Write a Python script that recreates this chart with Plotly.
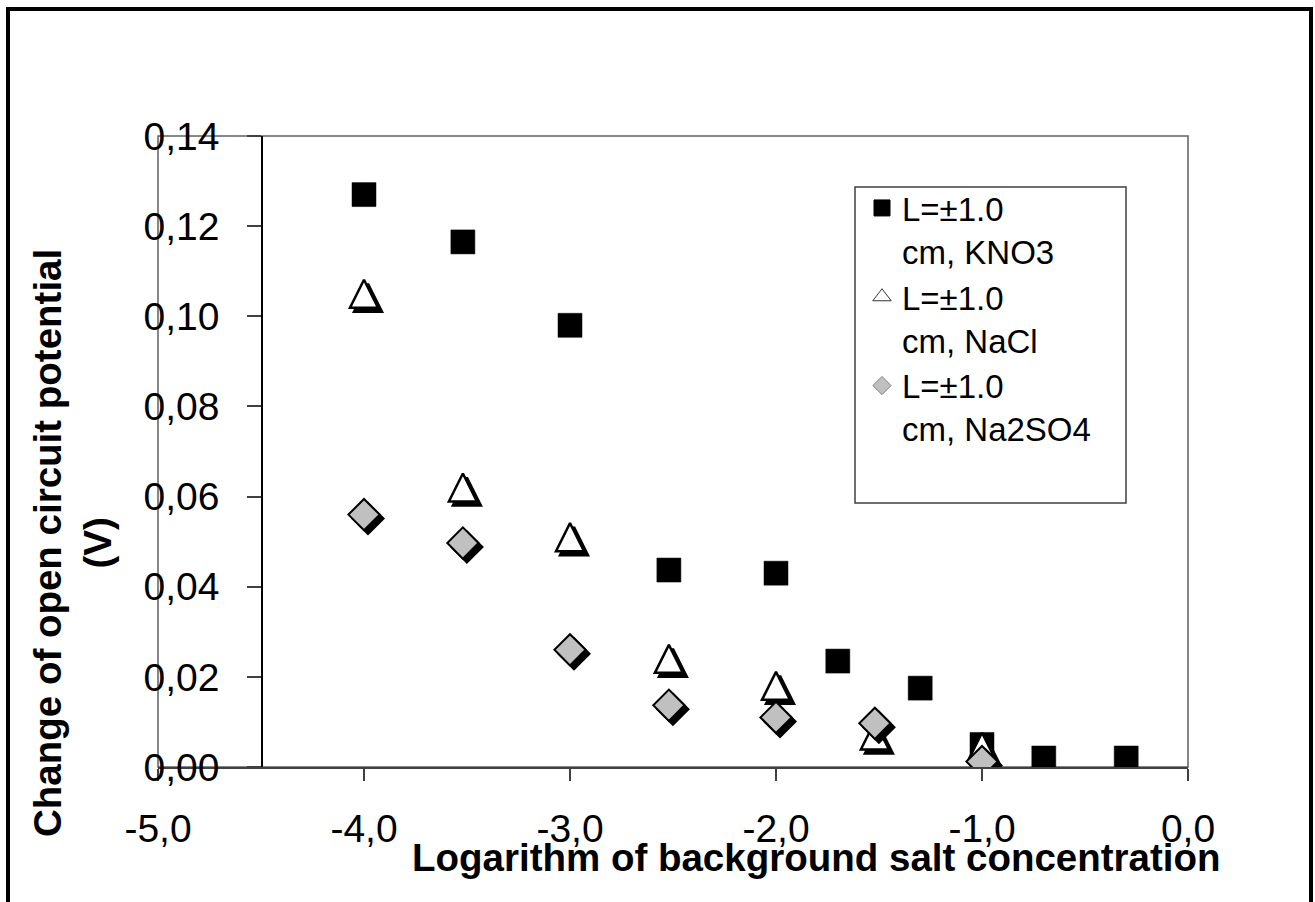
import plotly.graph_objects as go

# ---- data ----
x_kno3 = [-4.0, -3.52, -3.0, -2.52, -2.0, -1.70, -1.30, -1.0, -0.70, -0.30]
y_kno3 = [0.127, 0.1165, 0.098, 0.0437, 0.043, 0.0235, 0.0175, 0.005, 0.002, 0.002]

x_nacl = [-4.0, -3.52, -3.0, -2.52, -2.0, -1.52, -1.0]
y_nacl = [0.105, 0.062, 0.051, 0.024, 0.018, 0.007, 0.0045]

x_na2so4 = [-4.0, -3.52, -3.0, -2.52, -2.0, -1.52, -1.0]
y_na2so4 = [0.056, 0.0497, 0.026, 0.0137, 0.011, 0.0097, 0.0012]

names = ["L=±1.0<br>cm, KNO3", "L=±1.0<br>cm, NaCl", "L=±1.0<br>cm, Na2SO4"]

x_tickvals = [-5, -4, -3, -2, -1, 0]
x_ticktext = ["-5,0", "-4,0", "-3,0", "-2,0", "-1,0", "0,0"]
y_tickvals = [0.0, 0.02, 0.04, 0.06, 0.08, 0.10, 0.12, 0.14]
y_ticktext = ["0,00", "0,02", "0,04", "0,06", "0,08", "0,10", "0,12", "0,14"]

x_title = "Logarithm of background salt concentration"
y_title = "Change of open circuit potential<br>(V)"

# ---- layout geometry (pixels) ----
W, H = 1315, 902
PL, PR, PT, PB = 158, 1188, 136, 767
XR = [-5, 0]
YR = [0, 0.14]
FONT = "Liberation Sans, Arial, sans-serif"

def px(xp):
    return (xp - PL) / (PR - PL)

def py(yp):
    return (PB - yp) / (PB - PT)

# style offsets, pixels -> data units
XU = (XR[1] - XR[0]) / (PR - PL)
YU = (YR[1] - YR[0]) / (PB - PT)
SH = 4          # shadow offset in px
TRI_R = 14      # arrow-up half size in px (tip sits at the point, so lift by r to centre it)

fig = go.Figure()

fig.add_trace(go.Scatter(x=x_kno3, y=y_kno3, mode="markers", showlegend=False,
                         marker=dict(symbol="square", size=24, color="black",
                                     line=dict(color="black", width=0.5))))
# NaCl: shadow + main
fig.add_trace(go.Scatter(x=[v + SH * XU for v in x_nacl],
                         y=[v + (TRI_R - SH) * YU for v in y_nacl], mode="markers",
                         marker=dict(symbol="arrow-up", size=2 * TRI_R, color="black",
                                     line=dict(color="black", width=2.5)),
                         showlegend=False, hoverinfo="skip"))
fig.add_trace(go.Scatter(x=x_nacl, y=[v + TRI_R * YU for v in y_nacl], mode="markers",
                         showlegend=False,
                         marker=dict(symbol="arrow-up", size=2 * TRI_R, color="white",
                                     line=dict(color="black", width=2.5))))
# Na2SO4: shadow + main
fig.add_trace(go.Scatter(x=[v + SH * XU for v in x_na2so4], y=[v - SH * YU for v in y_na2so4],
                         mode="markers",
                         marker=dict(symbol="diamond", size=24, color="black",
                                     line=dict(color="black", width=2)),
                         showlegend=False, hoverinfo="skip"))
fig.add_trace(go.Scatter(x=x_na2so4, y=y_na2so4, mode="markers", showlegend=False,
                         marker=dict(symbol="diamond", size=24, color="#c0c0c0",
                                     line=dict(color="black", width=2))))

# legend entries (no points of their own)
fig.add_trace(go.Scatter(x=[None], y=[None], mode="markers", name=names[0],
                         marker=dict(symbol="square", size=16, color="black",
                                     line=dict(color="black", width=1))))
fig.add_trace(go.Scatter(x=[None], y=[None], mode="markers", name=names[1],
                         marker=dict(symbol="triangle-up", size=16, color="white",
                                     line=dict(color="#333333", width=1))))
fig.add_trace(go.Scatter(x=[None], y=[None], mode="markers", name=names[2],
                         marker=dict(symbol="diamond", size=14, color="#c0c0c0",
                                     line=dict(color="#808080", width=1))))

tickfont = dict(family=FONT, size=39, color="black")

fig.update_layout(
    width=W, height=H,
    margin=dict(l=PL, r=W - PR, t=PT, b=H - PB, pad=0),
    paper_bgcolor="white", plot_bgcolor="white",
    font=dict(family=FONT, color="black"),
    xaxis=dict(range=XR, showgrid=False, zeroline=False, showline=True,
               linecolor="#404040", linewidth=1.5, ticks="outside", ticklen=12,
               tickwidth=1.5, tickcolor="#404040", tickvals=x_tickvals,
               ticktext=x_ticktext, tickfont=tickfont, ticklabelstandoff=14),
    yaxis=dict(range=YR, showgrid=False, zeroline=False, showline=True,
               linecolor="black", linewidth=1.5, ticks="outside", ticklen=14,
               tickwidth=1.5, tickcolor="#404040", tickvals=y_tickvals,
               ticktext=y_ticktext, tickfont=tickfont, anchor="free",
               position=px(262), ticklabelstandoff=20),
    legend=dict(x=px(862), y=py(180), xanchor="left", yanchor="top",
                bgcolor="rgba(0,0,0,0)", borderwidth=0, valign="top",
                tracegroupgap=0, itemwidth=30,
                font=dict(family=FONT, size=33, color="black")),
    shapes=[
        dict(type="rect", xref="paper", yref="paper", x0=0, x1=1, y0=0, y1=1,
             line=dict(color="#606060", width=1.5), layer="below"),
        dict(type="rect", xref="paper", yref="paper", x0=px(855), x1=px(1126),
             y0=py(503), y1=py(187), line=dict(color="#404040", width=1.5)),
        dict(type="rect", xref="paper", yref="paper", x0=px(8), x1=px(1311),
             y0=py(930), y1=py(9), line=dict(color="black", width=4)),
    ],
    annotations=[
        dict(text="<b>" + x_title + "</b>", xref="paper", yref="paper",
             x=px(816), y=py(858), xanchor="center", yanchor="middle", showarrow=False,
             font=dict(family=FONT, size=38.5, color="black")),
        dict(text="<b>" + y_title + "</b>", xref="paper", yref="paper",
             x=px(72), y=py(543), xanchor="center", yanchor="middle", showarrow=False,
             textangle=-90,
             font=dict(family=FONT, size=38.5, color="black")),
    ],
)

fig.write_html("out.html")
